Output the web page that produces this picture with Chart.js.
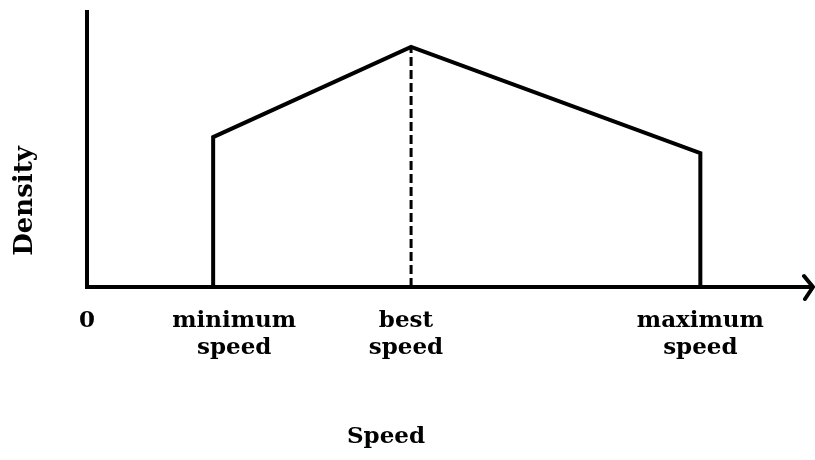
<!DOCTYPE html>
<html>
<head>
<meta charset="utf-8">
<script src="https://cdn.jsdelivr.net/npm/chart.js@4/dist/chart.umd.min.js"></script>
<style>
  html, body { margin: 0; padding: 0; background: #ffffff; }
  #wrap { width: 815px; height: 460px; position: relative; }
</style>
</head>
<body>
<div id="wrap"><canvas id="c"></canvas></div>
<script>
// ---- data ----
const curveSpeed   = [17.4, 17.4, 44.7, 84.6, 84.6];
const curveDensity = [0, 54.5, 87.3, 48.7, 0];
const bestSpeedX   = [44.7, 44.7];
const bestSpeedY   = [0, 87.3];
const tickSpeeds   = [0, 20.3, 44.0, 84.6];
const tickLabels   = [['0'], ['minimum', 'speed'], ['best', 'speed'], ['maximum', 'speed']];
const xTitle = 'Speed';
const yTitle = 'Density';

const FONT = '"DejaVu Serif", "Liberation Serif", serif';

const curvePts = curveSpeed.map((x, i) => ({ x: x, y: curveDensity[i] }));
const bestPts = bestSpeedX.map((x, i) => ({ x: x, y: bestSpeedY[i] }));

const decorPlugin = {
  id: 'decor',
  afterDraw(chart) {
    const ctx = chart.ctx;
    const xs = chart.scales.x, ys = chart.scales.y;
    const tipX = xs.right + 1, y0 = ys.getPixelForValue(0);
    // arrow head at end of speed axis
    ctx.save();
    ctx.strokeStyle = '#000';
    ctx.lineWidth = 4;
    ctx.lineCap = 'round';
    ctx.lineJoin = 'miter';
    ctx.beginPath();
    ctx.moveTo(tipX - 9, y0 - 11);
    ctx.lineTo(tipX, y0);
    ctx.lineTo(tipX - 8, y0 + 12);
    ctx.stroke();
    // axis titles
    ctx.fillStyle = '#000';
    ctx.textAlign = 'center';
    ctx.textBaseline = 'middle';
    ctx.font = 'bold 23px ' + FONT;
    ctx.fillText(xTitle, 386, 437);
    ctx.font = 'bold 26px ' + FONT;
    ctx.translate(25, 201);
    ctx.rotate(-Math.PI / 2);
    ctx.fillText(yTitle, 0, 0);
    ctx.restore();
  }
};

new Chart(document.getElementById('c'), {
  type: 'scatter',
  data: {
    datasets: [
      {
        data: curvePts,
        showLine: true,
        borderColor: '#000',
        borderWidth: 4,
        borderJoinStyle: 'miter',
        pointRadius: 0,
        tension: 0
      },
      {
        data: bestPts,
        showLine: true,
        borderColor: '#000',
        borderWidth: 3,
        borderDash: [9, 4],
        pointRadius: 0
      }
    ]
  },
  options: {
    responsive: true,
    maintainAspectRatio: false,
    animation: false,
    events: [],
    layout: { padding: { top: 12, right: 3, left: 0, bottom: 0 } },
    plugins: { legend: { display: false }, tooltip: { enabled: false } },
    scales: {
      x: {
        type: 'linear',
        min: 0,
        max: 100,
        grid: { display: false, drawTicks: false },
        border: { display: true, color: '#000', width: 4 },
        afterBuildTicks(scale) {
          scale.ticks = tickSpeeds.map(v => ({ value: v }));
        },
        afterFit(scale) { scale.height = 173; },
        ticks: {
          autoSkip: false,
          maxRotation: 0,
          color: '#000',
          padding: 21,
          font: { family: FONT, size: 23, weight: 'bold', lineHeight: '27px' },
          callback(value, index) { return tickLabels[index]; }
        }
      },
      y: {
        type: 'linear',
        min: 0,
        max: 100,
        grid: { display: false, drawTicks: false },
        border: { display: true, color: '#000', width: 4 },
        ticks: { display: false },
        afterFit(scale) { scale.width = 87; }
      }
    }
  },
  plugins: [decorPlugin]
});
</script>
</body>
</html>
